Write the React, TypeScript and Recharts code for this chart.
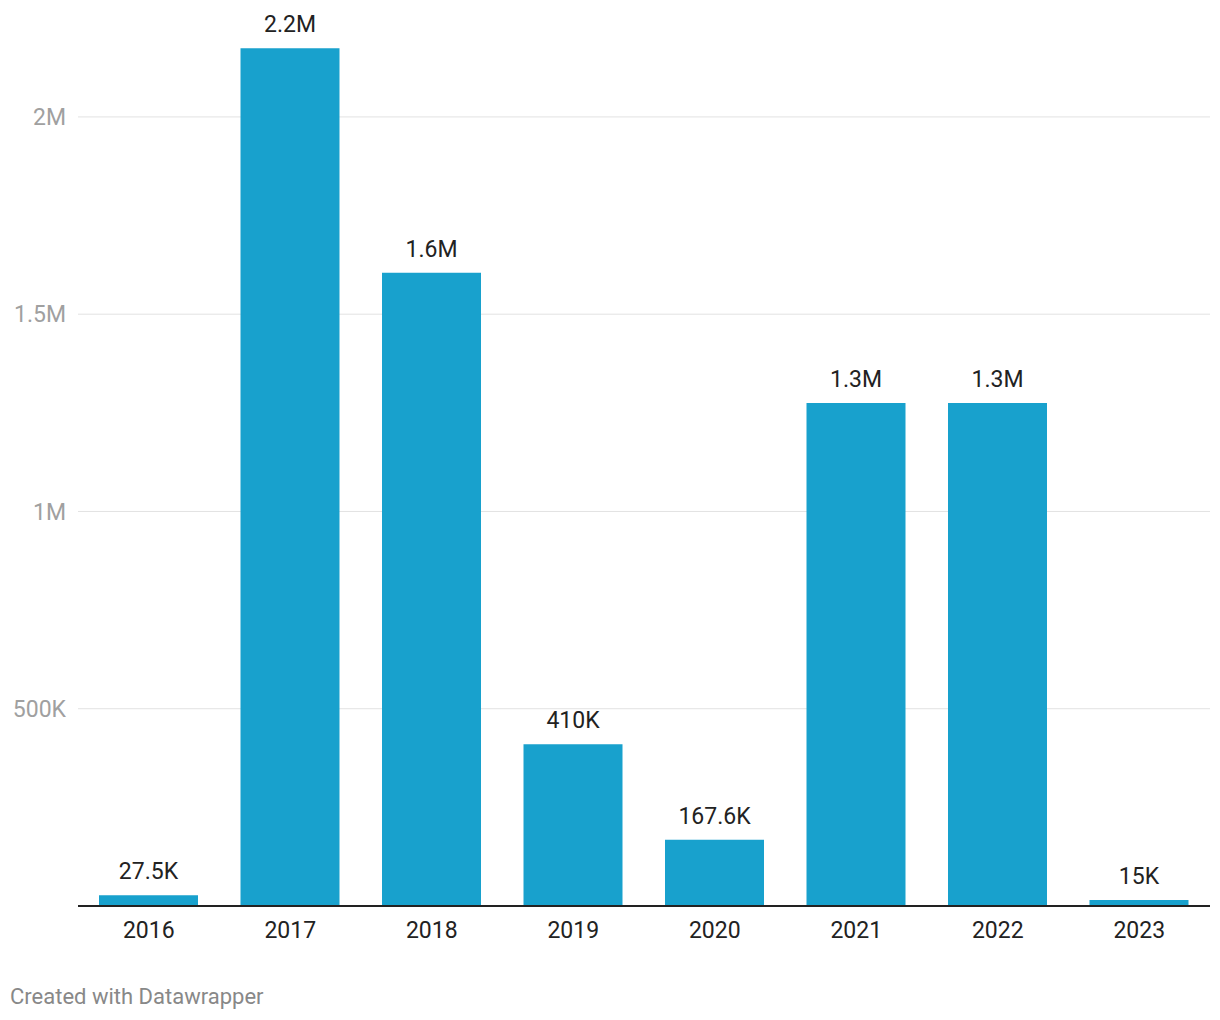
import { BarChart, Bar, XAxis, YAxis, CartesianGrid, LabelList } from 'recharts'

const years = ['2016', '2017', '2018', '2019', '2020', '2021', '2022', '2023']
const values = [27500, 2174000, 1605000, 410000, 167600, 1275000, 1275000, 15000]
const yTicks = [0, 500000, 1000000, 1500000, 2000000]
const gridValues = [500000, 1000000, 1500000, 2000000]

const BLUE = '#18a1cd'
const FONT = 'Roboto, "Noto Sans", sans-serif'

const data = years.map((year, i) => ({ year, value: values[i] }))

// 2.2M / 410K / 167.6K style
function fmtValue(v: number): string {
    if (v >= 1000000) return (v / 1000000).toFixed(1) + 'M'
    return parseFloat((v / 1000).toFixed(1)) + 'K'
}

function fmtTick(v: number): string {
    if (v === 0) return ''
    if (v >= 1000000) return parseFloat((v / 1000000).toFixed(1)) + 'M'
    return v / 1000 + 'K'
}

export default function App() {
    return (
        <div style={{ position: 'absolute', top: 0, left: 0, width: 1220, height: 1020, background: '#fff', fontFamily: FONT }}>
            <BarChart
                width={1220}
                height={960}
                data={data}
                margin={{ top: 38, right: 10, bottom: 24, left: 0 }}
                barSize={99}
            >
                <CartesianGrid vertical={false} stroke="#e2e2e2" horizontalValues={gridValues} />
                <XAxis
                    dataKey="year"
                    height={30}
                    tickSize={0}
                    tickMargin={16}
                    axisLine={{ stroke: '#222', strokeWidth: 2 }}
                    tick={{ fontSize: 23, fill: '#222', fontFamily: FONT }}
                />
                <YAxis
                    width={78}
                    domain={[0, 2200000]}
                    ticks={yTicks}
                    tickFormatter={fmtTick}
                    axisLine={false}
                    tickLine={false}
                    tickSize={0}
                    tickMargin={12}
                    tick={{ fontSize: 23, fill: '#a0a0a0', fontFamily: FONT }}
                />
                <Bar dataKey="value" fill={BLUE} isAnimationActive={false}>
                    <LabelList
                        dataKey="value"
                        position="top"
                        offset={16}
                        formatter={(v: any) => fmtValue(Number(v))}
                        style={{ fontSize: 23, fill: '#222', fontFamily: FONT }}
                    />
                </Bar>
            </BarChart>
            <div style={{ position: 'absolute', left: 10, top: 984, fontSize: 22, color: '#888', fontFamily: FONT }}>
                Created with Datawrapper
            </div>
        </div>
    )
}
